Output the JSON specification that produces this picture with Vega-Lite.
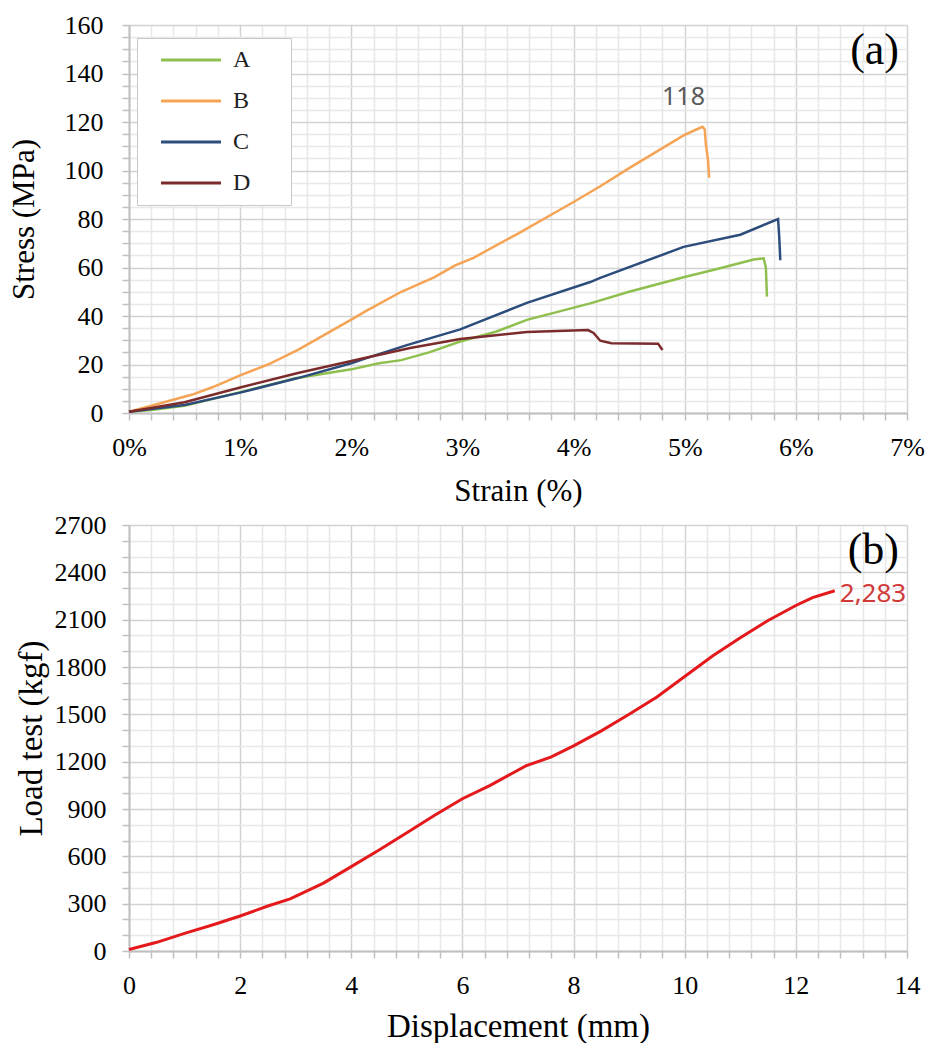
{
  "$schema": "https://vega.github.io/schema/vega-lite/v6.json",
  "padding": {"left": 8, "top": 12, "right": 0, "bottom": 0},
  "spacing": 6,
  "background": "white",
  "datasets": {
    "tensile": [
      {"specimen": "A", "strain": 0, "stress": 0.5},
      {"specimen": "A", "strain": 0.002, "stress": 1.2},
      {"specimen": "A", "strain": 0.005, "stress": 3.0},
      {"specimen": "A", "strain": 0.01, "stress": 8.6},
      {"specimen": "A", "strain": 0.015, "stress": 14.3},
      {"specimen": "A", "strain": 0.02, "stress": 18.0},
      {"specimen": "A", "strain": 0.0225, "stress": 20.5},
      {"specimen": "A", "strain": 0.0245, "stress": 21.8},
      {"specimen": "A", "strain": 0.027, "stress": 25.0},
      {"specimen": "A", "strain": 0.0298, "stress": 29.5},
      {"specimen": "A", "strain": 0.033, "stress": 33.5},
      {"specimen": "A", "strain": 0.0358, "stress": 38.4},
      {"specimen": "A", "strain": 0.0415, "stress": 45.2},
      {"specimen": "A", "strain": 0.045, "stress": 50.0},
      {"specimen": "A", "strain": 0.0499, "stress": 56.0},
      {"specimen": "A", "strain": 0.053, "stress": 59.5},
      {"specimen": "A", "strain": 0.0562, "stress": 63.3},
      {"specimen": "A", "strain": 0.0571, "stress": 63.8},
      {"specimen": "A", "strain": 0.0573, "stress": 60.0},
      {"specimen": "A", "strain": 0.0574, "stress": 48.0},
      {"specimen": "B", "strain": 0, "stress": 0.5},
      {"specimen": "B", "strain": 0.0025, "stress": 3.6},
      {"specimen": "B", "strain": 0.0057, "stress": 7.6},
      {"specimen": "B", "strain": 0.0075, "stress": 10.6},
      {"specimen": "B", "strain": 0.01, "stress": 15.5},
      {"specimen": "B", "strain": 0.0125, "stress": 20.0},
      {"specimen": "B", "strain": 0.0152, "stress": 26.0},
      {"specimen": "B", "strain": 0.0175, "stress": 32.0},
      {"specimen": "B", "strain": 0.02, "stress": 38.5},
      {"specimen": "B", "strain": 0.0213, "stress": 42.0},
      {"specimen": "B", "strain": 0.0245, "stress": 50.0},
      {"specimen": "B", "strain": 0.0275, "stress": 56.0},
      {"specimen": "B", "strain": 0.0293, "stress": 60.8},
      {"specimen": "B", "strain": 0.031, "stress": 64.0},
      {"specimen": "B", "strain": 0.035, "stress": 74.0},
      {"specimen": "B", "strain": 0.04, "stress": 87.0},
      {"specimen": "B", "strain": 0.0424, "stress": 93.5},
      {"specimen": "B", "strain": 0.045, "stress": 101.0},
      {"specimen": "B", "strain": 0.0499, "stress": 114.5},
      {"specimen": "B", "strain": 0.051, "stress": 116.8},
      {"specimen": "B", "strain": 0.0516, "stress": 118.0},
      {"specimen": "B", "strain": 0.0518, "stress": 117.0},
      {"specimen": "B", "strain": 0.0519, "stress": 111.0},
      {"specimen": "B", "strain": 0.0521, "stress": 104.0},
      {"specimen": "B", "strain": 0.0522, "stress": 97.0},
      {"specimen": "C", "strain": 0, "stress": 0.5},
      {"specimen": "C", "strain": 0.005, "stress": 3.3},
      {"specimen": "C", "strain": 0.01, "stress": 8.4},
      {"specimen": "C", "strain": 0.0152, "stress": 14.4},
      {"specimen": "C", "strain": 0.02, "stress": 20.5},
      {"specimen": "C", "strain": 0.0213, "stress": 22.5},
      {"specimen": "C", "strain": 0.025, "stress": 28.0},
      {"specimen": "C", "strain": 0.0298, "stress": 34.5},
      {"specimen": "C", "strain": 0.0358, "stress": 45.4},
      {"specimen": "C", "strain": 0.0415, "stress": 54.0},
      {"specimen": "C", "strain": 0.0424, "stress": 55.7},
      {"specimen": "C", "strain": 0.0499, "stress": 68.5},
      {"specimen": "C", "strain": 0.055, "stress": 73.5},
      {"specimen": "C", "strain": 0.0584, "stress": 80.0},
      {"specimen": "C", "strain": 0.0585, "stress": 73.0},
      {"specimen": "C", "strain": 0.0586, "stress": 63.0},
      {"specimen": "D", "strain": 0, "stress": 0.5},
      {"specimen": "D", "strain": 0.005, "stress": 4.4},
      {"specimen": "D", "strain": 0.01, "stress": 10.5},
      {"specimen": "D", "strain": 0.0152, "stress": 16.5},
      {"specimen": "D", "strain": 0.0213, "stress": 22.8},
      {"specimen": "D", "strain": 0.0253, "stress": 26.8},
      {"specimen": "D", "strain": 0.0298, "stress": 30.5},
      {"specimen": "D", "strain": 0.0358, "stress": 33.4},
      {"specimen": "D", "strain": 0.0413, "stress": 34.2},
      {"specimen": "D", "strain": 0.0418, "stress": 33.0},
      {"specimen": "D", "strain": 0.0424, "stress": 29.8},
      {"specimen": "D", "strain": 0.0434, "stress": 28.8},
      {"specimen": "D", "strain": 0.0476, "stress": 28.6},
      {"specimen": "D", "strain": 0.048, "stress": 26.0}
    ],
    "load": [
      {"disp": 0, "load": 10},
      {"disp": 0.5, "load": 55},
      {"disp": 1.0, "load": 112},
      {"disp": 1.5, "load": 165},
      {"disp": 2.0, "load": 222},
      {"disp": 2.5, "load": 285},
      {"disp": 2.9, "load": 330},
      {"disp": 3.5, "load": 430},
      {"disp": 4.0, "load": 535},
      {"disp": 4.5, "load": 640},
      {"disp": 5.0, "load": 750},
      {"disp": 5.5, "load": 860},
      {"disp": 6.0, "load": 965},
      {"disp": 6.5, "load": 1050},
      {"disp": 7.14, "load": 1173},
      {"disp": 7.6, "load": 1230},
      {"disp": 8.0, "load": 1300},
      {"disp": 8.5, "load": 1395},
      {"disp": 9.0, "load": 1500},
      {"disp": 9.5, "load": 1610},
      {"disp": 10.0, "load": 1740},
      {"disp": 10.5, "load": 1870},
      {"disp": 11.0, "load": 1985},
      {"disp": 11.5, "load": 2095},
      {"disp": 12.0, "load": 2190},
      {"disp": 12.3, "load": 2240},
      {"disp": 12.7, "load": 2283}
    ]
  },
  "vconcat": [
    {
      "width": 778,
      "height": 388,
      "layer": [
        {
          "data": {"name": "tensile"},
          "mark": {"type": "line", "strokeWidth": 2.5},
          "encoding": {
            "x": {
              "field": "strain", "type": "quantitative",
              "scale": {"domain": [0, 0.07], "nice": false},
              "axis": {
                "title": "Strain (%)",
                "tickCount": 100,
                "values": [0,0.002,0.004,0.006,0.008,0.01,0.012,0.014,0.016,0.018,0.02,0.022,0.024,0.026,0.028,0.03,0.032,0.034,0.036,0.038,0.04,0.042,0.044,0.046,0.048,0.05,0.052,0.054,0.056,0.058,0.06,0.062,0.064,0.066,0.068,0.07],
                "format": ".0%",
                "labelExpr": "abs(datum.value*100 - round(datum.value*100)) < 0.001 ? datum.label : ''",
                "gridColor": {"condition": {"test": "abs(datum.value*100 - round(datum.value*100)) < 0.001", "value": "#d2d2d2"}, "value": "#e8e8e8"},
                "labelPadding": 14,
                "titlePadding": 16
              }
            },
            "y": {
              "field": "stress", "type": "quantitative",
              "scale": {"domain": [0, 160], "nice": false},
              "axis": {
                "title": "Stress (MPa)",
                "tickCount": 100,
                "values": [0,5,10,15,20,25,30,35,40,45,50,55,60,65,70,75,80,85,90,95,100,105,110,115,120,125,130,135,140,145,150,155,160],
                "labelExpr": "datum.value % 20 == 0 ? datum.label : ''",
                "gridColor": {"condition": {"test": "datum.value % 20 == 0", "value": "#d2d2d2"}, "value": "#e8e8e8"},
                "labelPadding": 19,
                "titlePadding": 24
              }
            },
            "color": {
              "field": "specimen", "type": "nominal",
              "scale": {"domain": ["A", "B", "C", "D"], "range": ["#8fbf4f", "#f5a354", "#2c4c7c", "#7b2b2b"]},
              "legend": {
                "orient": "none", "legendX": 8, "legendY": 13,
                "title": null,
                "symbolType": "M-3,0L3,0",
                "symbolSize": 400,
                "symbolStrokeWidth": 3,
                "labelFont": "Liberation Serif", "labelFontSize": 24, "labelColor": "#222222",
                "labelExpr": "datum.label + '\u2003\u2005\u200b'",
                "labelOffset": 30, "symbolOffset": 32,
                "padding": 10, "rowPadding": 17,
                "strokeColor": "#c8c8c8", "fillColor": "white"
              }
            }
          }
        },
        {
          "data": {"values": [{}]},
          "mark": {"type": "text", "font": "Noto Sans", "fontSize": 25, "color": "#595959", "dy": -30, "dx": -19},
          "encoding": {
            "x": {"datum": 0.0516, "type": "quantitative"},
            "y": {"datum": 118, "type": "quantitative"},
            "text": {"value": "118"}
          }
        },
        {
          "data": {"values": [{}]},
          "mark": {"type": "text", "font": "Liberation Serif", "fontSize": 44, "color": "black", "align": "right", "baseline": "top", "dx": -8, "dy": 4},
          "encoding": {
            "x": {"datum": 0.07, "type": "quantitative"},
            "y": {"datum": 160, "type": "quantitative"},
            "text": {"value": "(a)"}
          }
        }
      ]
    },
    {
      "width": 778,
      "height": 426,
      "layer": [
        {
          "data": {"name": "load"},
          "mark": {"type": "line", "strokeWidth": 3, "color": "#e3191c"},
          "encoding": {
            "x": {
              "field": "disp", "type": "quantitative",
              "scale": {"domain": [0, 14], "nice": false},
              "axis": {
                "title": "Displacement (mm)",
                "titleFontSize": 33,
                "tickCount": 100,
                "values": [0,0.4,0.8,1.2,1.6,2,2.4,2.8,3.2,3.6,4,4.4,4.8,5.2,5.6,6,6.4,6.8,7.2,7.6,8,8.4,8.8,9.2,9.6,10,10.4,10.8,11.2,11.6,12,12.4,12.8,13.2,13.6,14],
                "labelExpr": "abs(datum.value/2 - round(datum.value/2)) < 0.001 ? format(datum.value, 'd') : ''",
                "gridColor": {"condition": {"test": "abs(datum.value/2 - round(datum.value/2)) < 0.001", "value": "#d2d2d2"}, "value": "#e8e8e8"},
                "labelPadding": 14,
                "titlePadding": 12
              }
            },
            "y": {
              "field": "load", "type": "quantitative",
              "scale": {"domain": [0, 2700], "nice": false},
              "axis": {
                "title": "Load test (kgf)",
                "titleFontSize": 33,
                "tickCount": 100,
                "values": [0,100,200,300,400,500,600,700,800,900,1000,1100,1200,1300,1400,1500,1600,1700,1800,1900,2000,2100,2200,2300,2400,2500,2600,2700],
                "format": "d",
                "labelExpr": "datum.value % 300 == 0 ? datum.label : ''",
                "gridColor": {"condition": {"test": "datum.value % 300 == 0", "value": "#d2d2d2"}, "value": "#e8e8e8"},
                "labelPadding": 16,
                "titlePadding": 6
              }
            }
          }
        },
        {
          "data": {"values": [{}]},
          "mark": {"type": "text", "font": "Noto Sans", "fontSize": 26, "color": "#d23a3a", "align": "left", "baseline": "middle", "dx": 5, "dy": 3},
          "encoding": {
            "x": {"datum": 12.7, "type": "quantitative"},
            "y": {"datum": 2283, "type": "quantitative"},
            "text": {"value": "2,283"}
          }
        },
        {
          "data": {"values": [{}]},
          "mark": {"type": "text", "font": "Liberation Serif", "fontSize": 44, "color": "black", "align": "right", "baseline": "top", "dx": -8, "dy": 4},
          "encoding": {
            "x": {"datum": 14, "type": "quantitative"},
            "y": {"datum": 2700, "type": "quantitative"},
            "text": {"value": "(b)"}
          }
        }
      ]
    }
  ],
  "config": {
    "view": {"stroke": null},
    "axis": {
      "labelFont": "Liberation Serif",
      "labelFontSize": 26,
      "labelColor": "black",
      "labelOverlap": false,
      "labelFlush": false,
      "titleFont": "Liberation Serif",
      "titleFontSize": 31,
      "titleFontWeight": "normal",
      "titleColor": "black",
      "domainColor": "#c0c0c0",
      "domainWidth": 2,
      "tickColor": "#c0c0c0",
      "tickWidth": 1.5,
      "tickSize": 7,
      "gridWidth": 1.5
    }
  }
}
